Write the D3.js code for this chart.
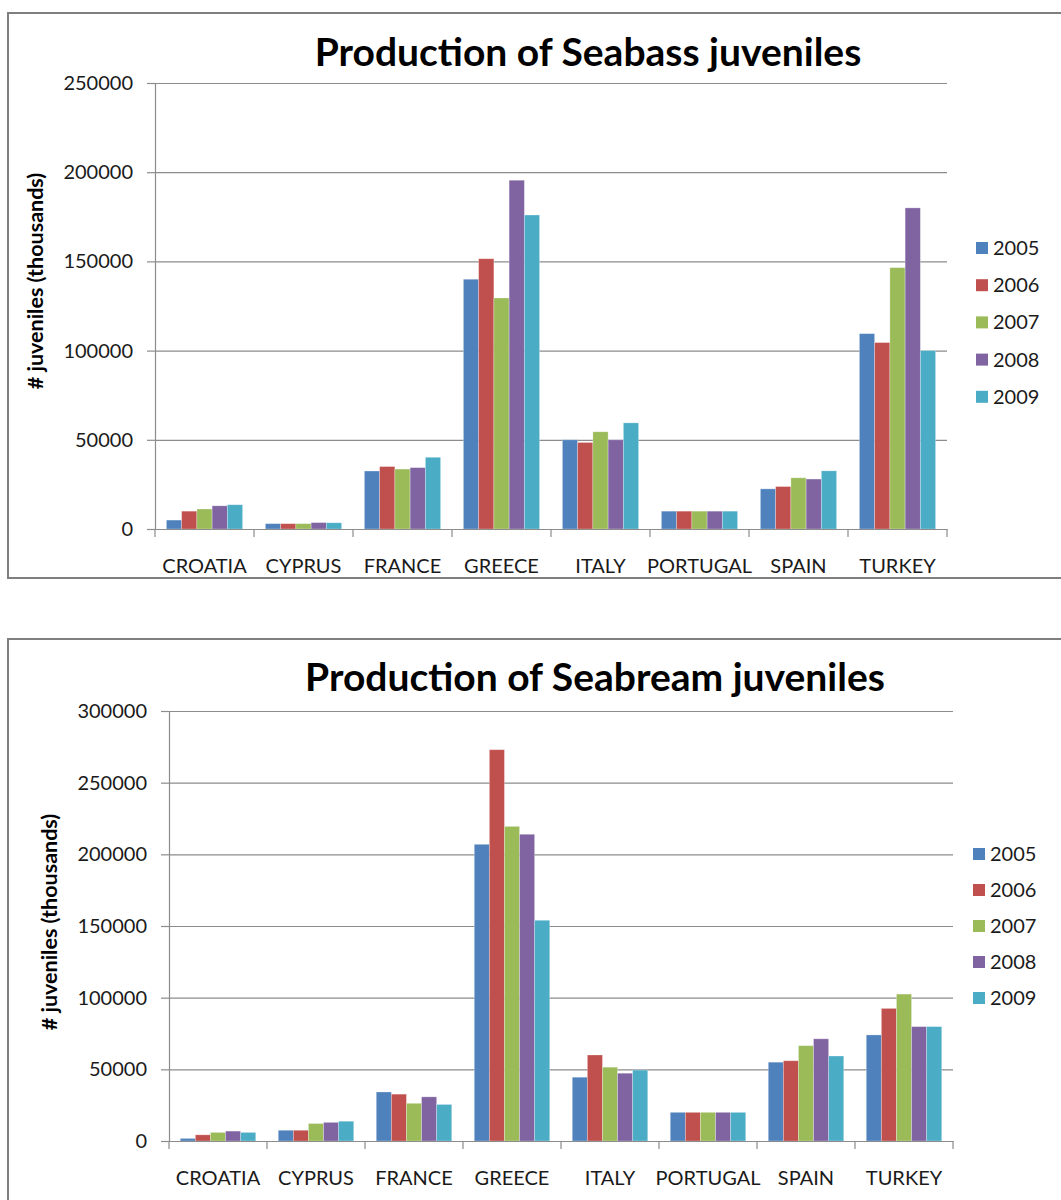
<!DOCTYPE html>
<html>
<head>
<meta charset="utf-8">
<script src="https://cdn.jsdelivr.net/npm/d3@7"></script>
<style>
  html, body { margin: 0; padding: 0; background: #fff; }
  svg { display: block; }
  text { font-family: Lato, "Open Sans", sans-serif; }
</style>
</head>
<body>
<svg id="chart" width="1061" height="1200"></svg>
<script>
// ---------- DATA ----------
const categories = ["CROATIA", "CYPRUS", "FRANCE", "GREECE", "ITALY", "PORTUGAL", "SPAIN", "TURKEY"];
const years = ["2005", "2006", "2007", "2008", "2009"];
const colors = ["#4F81BD", "#C0504D", "#9BBB59", "#8064A2", "#4BACC6"];

// Seabass (values per year, in category order)
const seabass2005 = [5000, 3000, 32500, 140000, 50000, 10000, 22500, 109500];
const seabass2006 = [10000, 3000, 35000, 151500, 48500, 10000, 23800, 104500];
const seabass2007 = [11200, 3000, 33600, 129500, 54500, 10000, 28700, 146500];
const seabass2008 = [13000, 3600, 34400, 195500, 50000, 10000, 28000, 180000];
const seabass2009 = [13600, 3500, 40200, 176000, 59500, 10000, 32600, 100000];
const seabassTicks = [0, 50000, 100000, 150000, 200000, 250000];

// Seabream
const seabream2005 = [1800, 7500, 34200, 207000, 44500, 20000, 55000, 74000];
const seabream2006 = [4300, 7500, 32700, 273000, 60000, 20000, 56000, 92500];
const seabream2007 = [6000, 12200, 26300, 219500, 51500, 20000, 66500, 102500];
const seabream2008 = [6900, 13000, 30800, 214000, 47300, 20000, 71300, 79800];
const seabream2009 = [6000, 13800, 25500, 154000, 49500, 20000, 59300, 79800];
const seabreamTicks = [0, 50000, 100000, 150000, 200000, 250000, 300000];

const seabassTitle = "Production of Seabass juveniles";
const seabreamTitle = "Production of Seabream juveniles";
const yLabel = "# juveniles (thousands)";

// ---------- DRAW ----------
const svg = d3.select("#chart");

function drawChart(opts) {
  const { series, ticks, title, frame, plot, titlePos, yLabelPos, legend } = opts;
  const g = svg.append("g");

  // frame
  g.append("rect")
    .attr("x", frame.x).attr("y", frame.y)
    .attr("width", frame.w).attr("height", frame.h)
    .attr("fill", "#fff").attr("stroke", "#7f7f7f").attr("stroke-width", 2);

  const x0 = d3.scaleBand().domain(categories).range([plot.left, plot.right]).padding(0);
  const bw = x0.bandwidth();
  const x1 = d3.scaleBand().domain(years).range([bw * 0.115, bw * 0.885]).padding(0);
  const y = d3.scaleLinear().domain([0, d3.max(ticks)]).range([plot.bottom, plot.top]);

  // gridlines
  g.append("g")
    .attr("transform", `translate(${plot.left},0)`)
    .call(d3.axisLeft(y).tickValues(ticks).tickSize(-(plot.right - plot.left)).tickFormat(""))
    .call(s => s.select(".domain").remove())
    .call(s => s.selectAll("line").attr("stroke", "#8c8c8c").attr("stroke-width", 1.2));

  // y axis
  g.append("g")
    .attr("transform", `translate(${plot.left},0)`)
    .call(d3.axisLeft(y).tickValues(ticks).tickSize(8).tickPadding(14).tickFormat(d3.format("d")))
    .call(s => s.select(".domain").attr("stroke", "#8c8c8c").attr("stroke-width", 1.2))
    .call(s => s.selectAll("line").attr("stroke", "#8c8c8c").attr("stroke-width", 1.2))
    .call(s => s.selectAll("text").attr("fill", "#1a1a1a").style("font-size", "20px").style("font-family", "Lato, sans-serif"));

  // bars
  const rows = categories.map((c, i) => ({ c, vals: years.map((yr, j) => ({ yr, v: series[j][i], j })) }));
  g.append("g").selectAll("g").data(rows).join("g")
    .attr("transform", d => `translate(${x0(d.c)},0)`)
    .selectAll("rect").data(d => d.vals).join("rect")
    .attr("x", d => x1(d.yr))
    .attr("y", d => y(d.v))
    .attr("width", x1.bandwidth())
    .attr("height", d => y(0) - y(d.v))
    .attr("fill", d => colors[d.j])
    .attr("stroke", "rgba(255,255,255,0.35)").attr("stroke-width", 0.8);

  // x axis
  const xa = g.append("g").attr("transform", `translate(0,${plot.bottom})`)
    .call(d3.axisBottom(x0).tickSize(0).tickPadding(30))
    .call(s => s.select(".domain").attr("stroke", "#8c8c8c").attr("stroke-width", 1.2))
    .call(s => s.selectAll("text").attr("fill", "#1a1a1a").style("font-size", "20px").style("font-family", "Lato, sans-serif"));
  // boundary tick marks
  const bounds = categories.map(c => x0(c)).concat([plot.right]);
  xa.append("g").selectAll("line").data(bounds).join("line")
    .attr("x1", d => d).attr("x2", d => d).attr("y1", 0).attr("y2", 8)
    .attr("stroke", "#8c8c8c").attr("stroke-width", 1.2);

  // title
  g.append("text")
    .attr("x", titlePos.x).attr("y", titlePos.y)
    .attr("text-anchor", "middle")
    .style("font-size", titlePos.size + "px").style("font-weight", "bold")
    .attr("fill", "#000")
    .text(title);

  // y label
  g.append("text")
    .attr("transform", `translate(${yLabelPos.x},${yLabelPos.y}) rotate(-90)`)
    .attr("text-anchor", "middle")
    .style("font-size", "21.5px").style("font-weight", "bold")
    .attr("fill", "#000")
    .text(yLabel);

  // legend
  const lg = g.append("g").attr("transform", `translate(${legend.x},${legend.y})`);
  const items = lg.selectAll("g").data(years).join("g")
    .attr("transform", (d, i) => `translate(0,${i * legend.step})`);
  items.append("rect").attr("x", 0).attr("y", -6).attr("width", 12).attr("height", 12)
    .attr("fill", (d, i) => colors[i]);
  items.append("text").attr("x", 17).attr("y", 0).attr("dy", "0.35em")
    .style("font-size", "20px").attr("fill", "#1a1a1a").text(d => d);
}

drawChart({
  series: [seabass2005, seabass2006, seabass2007, seabass2008, seabass2009],
  ticks: seabassTicks,
  title: seabassTitle,
  frame: { x: 8, y: 13, w: 1070, h: 565 },
  plot: { left: 155, right: 947, top: 83, bottom: 529 },
  titlePos: { x: 588, y: 66, size: 39 },
  yLabelPos: { x: 43, y: 281 },
  legend: { x: 976, y: 248, step: 37.2 }
});

drawChart({
  series: [seabream2005, seabream2006, seabream2007, seabream2008, seabream2009],
  ticks: seabreamTicks,
  title: seabreamTitle,
  frame: { x: 8, y: 639, w: 1070, h: 600 },
  plot: { left: 169, right: 953, top: 711, bottom: 1141 },
  titlePos: { x: 595, y: 691, size: 39 },
  yLabelPos: { x: 57, y: 922 },
  legend: { x: 973, y: 854, step: 36 }
});
</script>
</body>
</html>
